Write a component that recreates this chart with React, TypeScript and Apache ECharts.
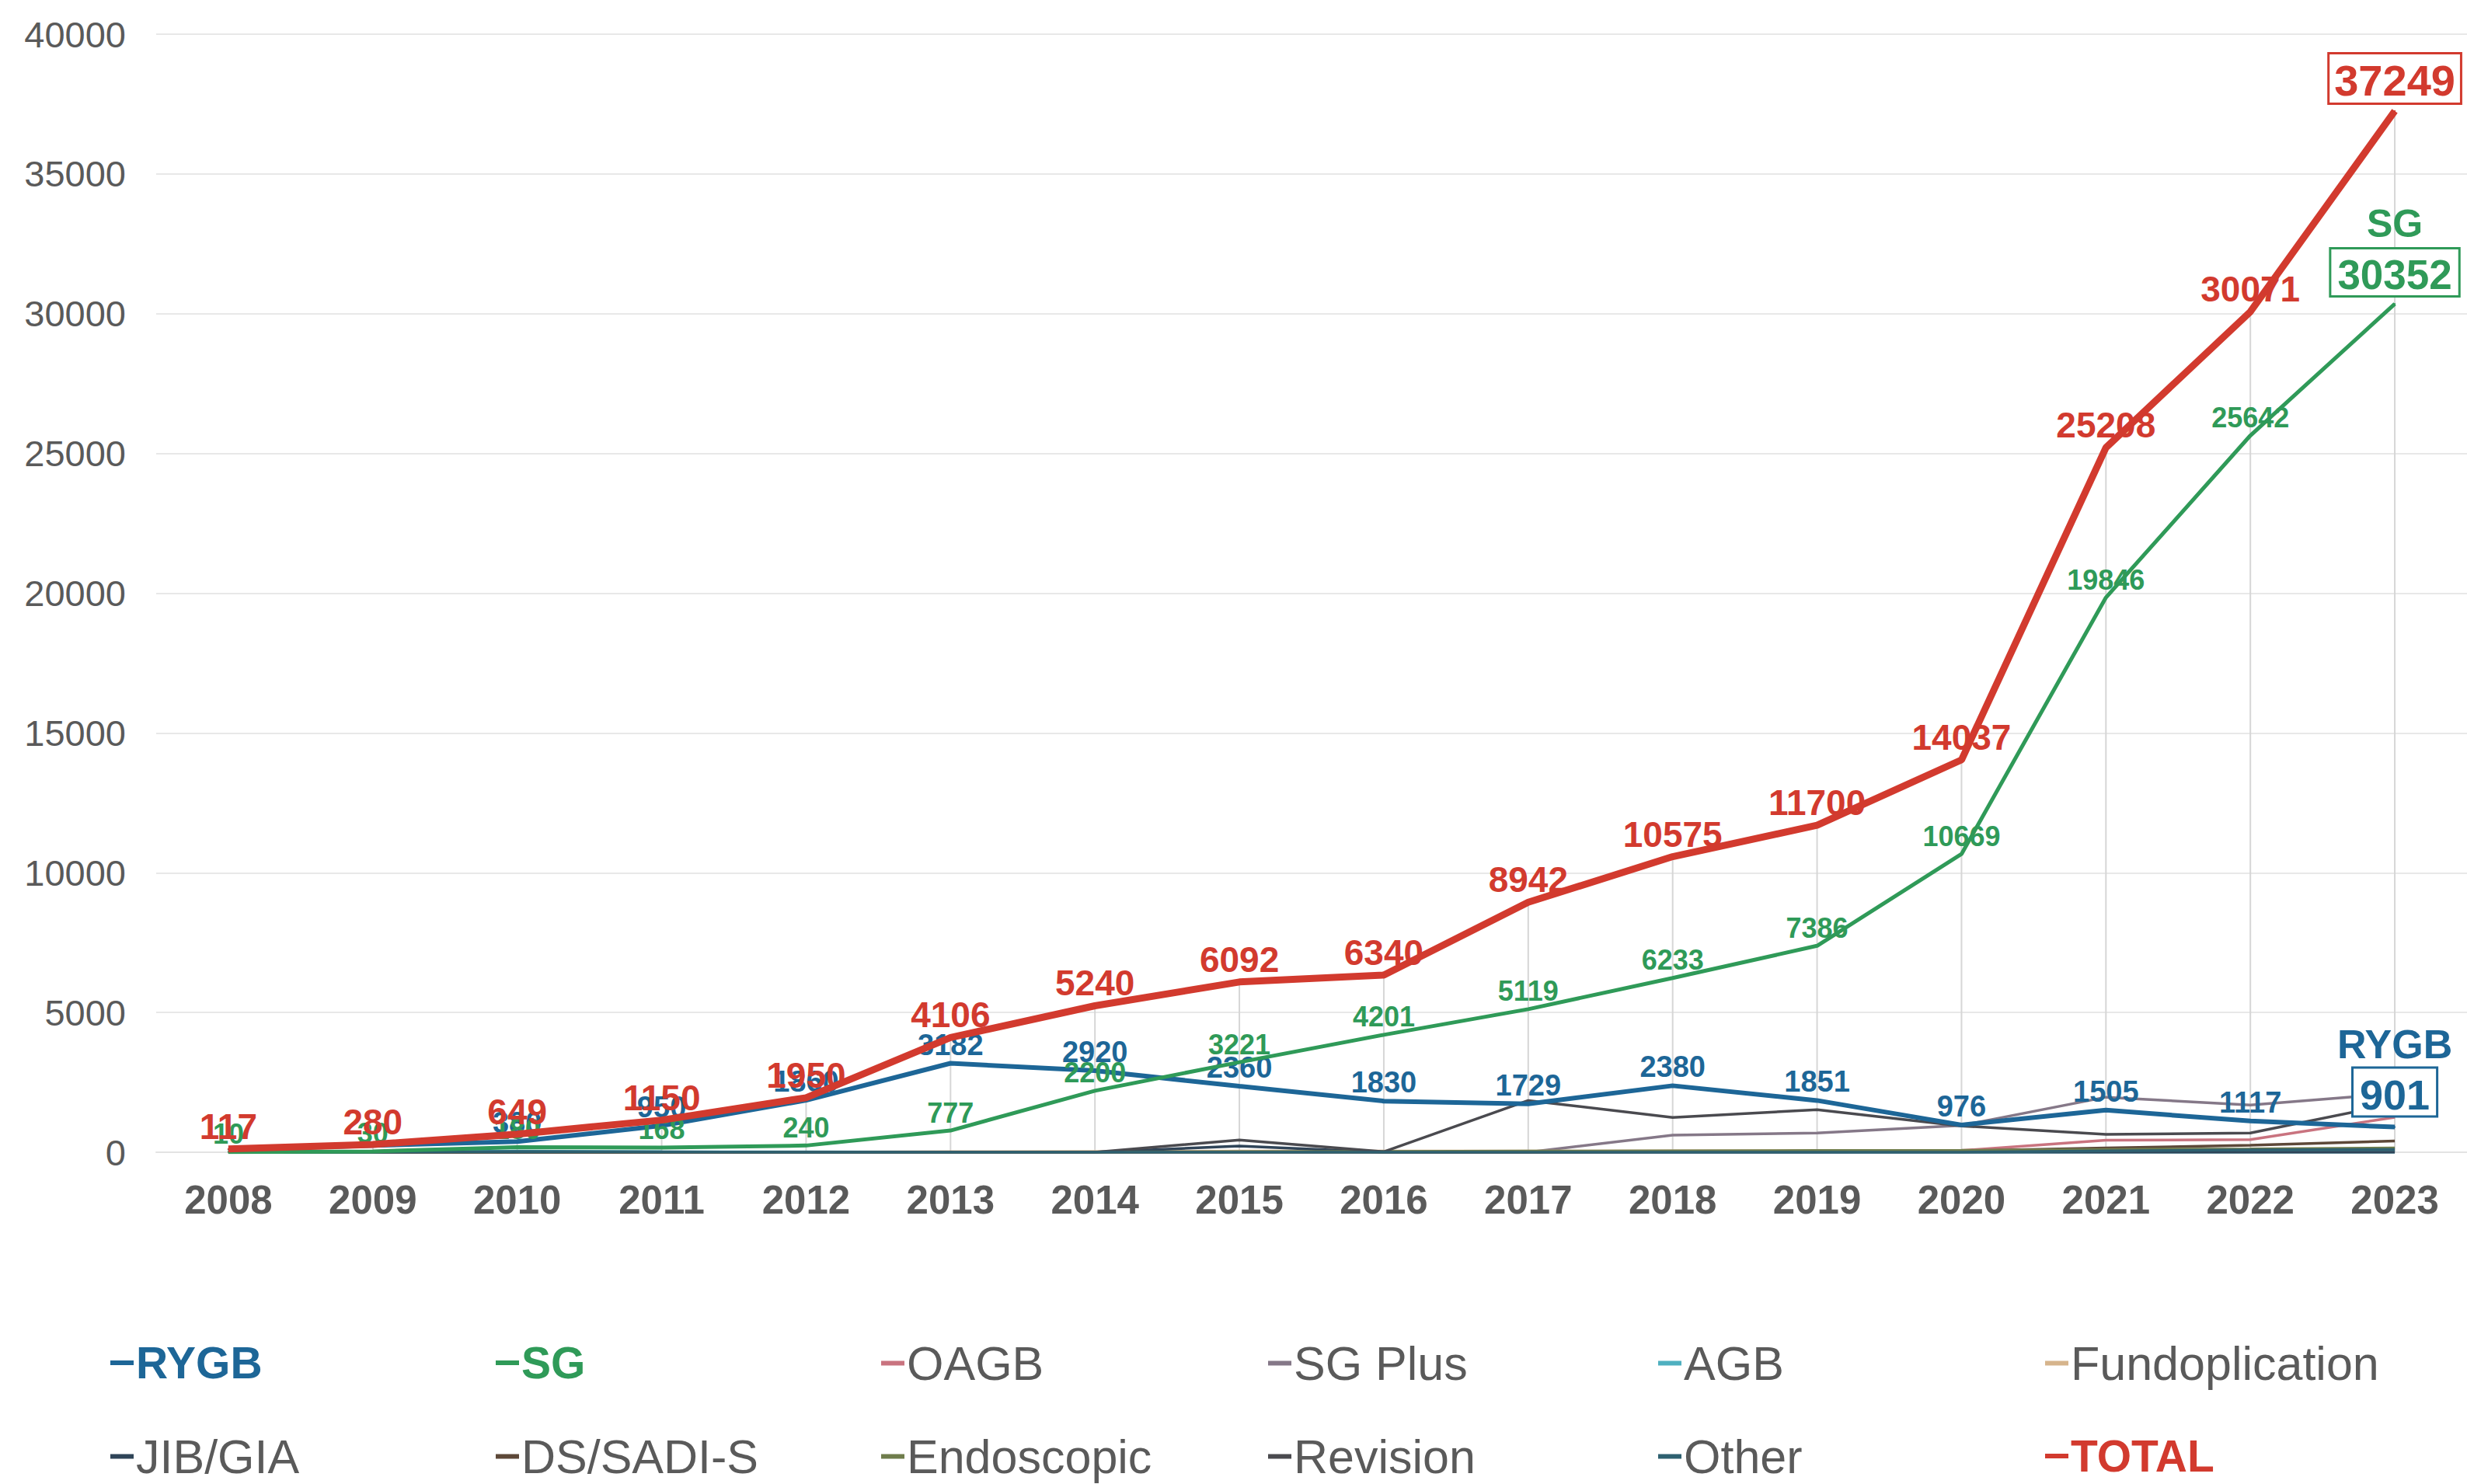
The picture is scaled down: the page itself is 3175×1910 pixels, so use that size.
import React, { useEffect, useRef } from "react";
import * as echarts from "echarts";

const years = ["2008","2009","2010","2011","2012","2013","2014","2015","2016","2017","2018","2019","2020","2021","2022","2023"];
const total = [117,280,649,1150,1950,4106,5240,6092,6340,8942,10575,11700,14037,25208,30071,37249];
const sg = [10,30,180,168,240,777,2200,3221,4201,5119,6233,7386,10669,19846,25642,30352];
const rygb = [100,240,380,950,1860,3182,2920,2360,1830,1729,2380,1851,976,1505,1117,901];
const oagb = [0,0,0,0,0,0,0,0,0,0,0,0,60,430,450,1250];
const sgPlus = [0,0,0,0,0,0,0,0,0,0,610,690,960,1970,1690,2100];
const agb = [7,10,40,20,15,10,5,5,0,0,0,0,0,0,0,0];
const fundoplication = [0,0,0,0,0,20,30,40,40,40,50,60,60,80,100,120];
const jibGia = [0,0,0,0,0,0,0,220,0,0,0,0,0,0,0,0];
const dsSadis = [0,0,0,0,0,0,0,0,0,0,20,30,50,150,250,400];
const endoscopic = [0,0,0,0,0,0,10,20,30,40,50,60,70,100,120,150];
const revision = [0,0,0,0,0,0,0,440,20,1850,1245,1520,940,640,690,1740];
const other = [0,0,29,12,0,0,0,0,0,0,0,0,0,50,80,100];

const yTicks = { min: 0, max: 40000, interval: 5000 };

const FONT = "'Liberation Sans', Arial, sans-serif";
const RED = "#d23a2e";
const GREEN = "#2f9a58";
const BLUE = "#1d6697";
const GRAY_TEXT = "#5a5a5a";

export default function App() {
  const ref = useRef<HTMLDivElement>(null);
  useEffect(() => {
    document.body.style.margin = "0";
    const chart = echarts.init(ref.current!, null, { renderer: "svg" });
    const last = years.length - 1;

    const thin = (name: string, data: number[], color: string) => ({
      name,
      type: "line",
      data,
      symbol: "none",
      lineStyle: { width: 3.5, color },
      itemStyle: { color },
      z: 2,
    });

    const legendCols = [142, 638, 1134, 1632, 2134, 2632];
    const legendRows = [1724, 1844];
    const legendItems = [
      ["RYGB", BLUE, true], ["SG", GREEN, true], ["OAGB", null, false], ["SG Plus", null, false], ["AGB", null, false], ["Fundoplication", null, false],
      ["JIB/GIA", null, false], ["DS/SADI-S", null, false], ["Endoscopic", null, false], ["Revision", null, false], ["Other", null, false], ["TOTAL", RED, true],
    ] as [string, string | null, boolean][];

    const legends = legendItems.map(([name, color, bold], i) => ({
      data: [{ name, textStyle: { color: color || GRAY_TEXT, fontWeight: bold ? "bold" : "normal", fontSize: bold ? 57 : 61 } }],
      left: legendCols[i % 6],
      top: legendRows[Math.floor(i / 6)],
      icon: "rect",
      itemWidth: 30,
      itemHeight: 6,
      itemGap: 0,
      padding: 0,
      selectedMode: false,
      textStyle: { fontSize: 61, lineHeight: 60, fontFamily: FONT, color: GRAY_TEXT, padding: [0, 0, 0, -2] },
    }));

    chart.setOption({
      animation: false,
      backgroundColor: "#ffffff",
      textStyle: { fontFamily: FONT },
      grid: { left: 201, right: 0, top: 44, bottom: 427, containLabel: false },
      legend: legends,
      xAxis: {
        type: "category",
        data: years,
        boundaryGap: true,
        axisTick: { show: false },
        axisLine: { show: true, lineStyle: { color: "#e3e3e3", width: 2 } },
        axisLabel: { fontSize: 51, fontWeight: "bold", color: GRAY_TEXT, margin: 36, fontFamily: FONT },
        splitLine: { show: false },
      },
      yAxis: {
        type: "value",
        min: yTicks.min,
        max: yTicks.max,
        interval: yTicks.interval,
        axisLine: { show: false },
        axisTick: { show: false },
        axisLabel: { fontSize: 47, color: GRAY_TEXT, margin: 39, fontFamily: FONT, formatter: (v: number) => String(v) },
        splitLine: { lineStyle: { color: "#e8e8e8", width: 2 } },
      },
      series: [
        {
          name: "drop",
          type: "bar",
          data: total,
          barWidth: 2,
          silent: true,
          itemStyle: { color: "#d6d6d6" },
          z: 0,
        },
        thin("OAGB", oagb, "#c9737f"),
        thin("SG Plus", sgPlus, "#857888"),
        thin("AGB", agb, "#4fb0c0"),
        thin("Fundoplication", fundoplication, "#d6b48c"),
        thin("JIB/GIA", jibGia, "#2f4458"),
        thin("DS/SADI-S", dsSadis, "#5d4838"),
        thin("Endoscopic", endoscopic, "#6f7d4c"),
        thin("Revision", revision, "#4a4a4f"),
        thin("Other", other, "#2e6070"),
        {
          name: "RYGB",
          type: "line",
          data: rygb.map((v, i) => {
            if (i < 2) return { value: v, label: { show: false } };
            if (i === last)
              return {
                value: v,
                label: {
                  distance: 14,
                  formatter: (p: any) => `{nm|RYGB}\n{bx|${p.value}}`,
                  rich: {
                    nm: { fontSize: 52, fontWeight: "bold", color: BLUE, fontFamily: FONT, lineHeight: 64, align: "center" },
                    bx: { fontSize: 54, fontWeight: "bold", color: BLUE, fontFamily: FONT, borderColor: BLUE, borderWidth: 3, padding: [6, 8, 0, 8], backgroundColor: "#ffffff", align: "center" },
                  },
                },
              };
            return v;
          }),
          symbol: "circle",
          symbolSize: 2,
          lineStyle: { width: 6, color: BLUE },
          itemStyle: { color: BLUE },
          label: { show: true, position: "top", distance: 4, fontSize: 38, fontWeight: "bold", color: BLUE, fontFamily: FONT },
          z: 3,
        },
        {
          name: "SG",
          type: "line",
          data: sg.map((v, i) => {
            if (i === last)
              return {
                value: v,
                label: {
                  distance: 10,
                  formatter: (p: any) => `{nm|SG}\n{bx|${p.value}}`,
                  rich: {
                    nm: { fontSize: 50, fontWeight: "bold", color: GREEN, fontFamily: FONT, lineHeight: 66, align: "center" },
                    bx: { fontSize: 53, fontWeight: "bold", color: GREEN, fontFamily: FONT, borderColor: GREEN, borderWidth: 3, padding: [6, 8, 0, 8], backgroundColor: "#ffffff", align: "center" },
                  },
                },
              };
            return v;
          }),
          symbol: "circle",
          symbolSize: 2,
          lineStyle: { width: 5, color: GREEN },
          itemStyle: { color: GREEN },
          label: { show: true, position: "top", distance: 4, fontSize: 36, fontWeight: "bold", color: GREEN, fontFamily: FONT },
          z: 4,
        },
        {
          name: "TOTAL",
          type: "line",
          data: total.map((v, i) => {
            if (i === last)
              return {
                value: v,
                label: {
                  distance: 10,
                  fontSize: 56,
                  borderColor: RED,
                  borderWidth: 3,
                  padding: [6, 6, 0, 6],
                  backgroundColor: "#ffffff",
                },
              };
            return v;
          }),
          symbol: "circle",
          symbolSize: 2,
          lineStyle: { width: 9, color: RED },
          itemStyle: { color: RED },
          label: { show: true, position: "top", distance: 5, fontSize: 46, fontWeight: "bold", color: RED, fontFamily: FONT },
          z: 5,
        },
      ],
    });
    return () => chart.dispose();
  }, []);
  return <div ref={ref} style={{ width: 3175, height: 1910 }} />;
}
